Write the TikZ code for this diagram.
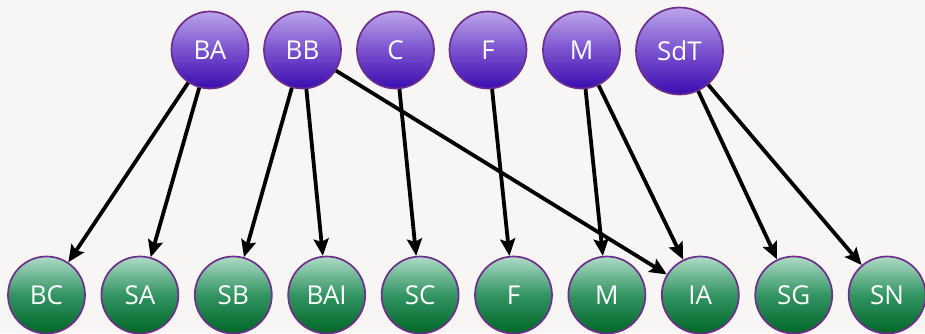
\documentclass[tikz,border=0pt]{standalone}
\usepackage{fontspec}
\setmainfont{Open Sans}
\usetikzlibrary{arrows.meta}

\definecolor{paper}{HTML}{F7F6F4}
\definecolor{rim}{HTML}{6E2E8C}
\definecolor{violettop}{HTML}{BCA4EA}
\definecolor{violetmid}{HTML}{7A52CF}
\definecolor{violetbot}{HTML}{3A0CB0}
\definecolor{greentop}{HTML}{AEDCC6}
\definecolor{greenmid}{HTML}{339463}
\definecolor{greenbot}{HTML}{006626}

\begin{document}
\begin{tikzpicture}[x=1pt, y=-1pt,
    ball/.style={circle, draw=rim, line width=1.7pt, text=white, inner sep=0pt,
      minimum size=77pt, font=\fontsize{26}{30}\selectfont},
    upper/.style={ball, top color=violettop, bottom color=violetbot, middle color=violetmid},
    lower/.style={ball, top color=greentop, bottom color=greenbot, middle color=greenmid},
    link/.style={-{Stealth[length=17pt, width=15pt, inset=3pt]}, line width=3.8pt}]
  \useasboundingbox (0,0) rectangle (925,333);
  \fill[paper] (0,0) rectangle (925,333);  %background

  % upper row
  \node[upper] (BA)  at (210,50)   {BA};
  \node[upper] (BB)  at (302.5,50) {BB};
  \node[upper] (C)   at (395.5,50) {C};
  \node[upper] (F)   at (488,50)   {F};
  \node[upper] (M)   at (581.5,50) {M};
  \node[upper, minimum size=87pt] (SdT) at (679.5,51) {SdT};

  % lower row
  \foreach \name/\txt [count=\i from 0] in {BC/BC, SA/SA, SB/SB, BAI/BAI, SC/SC, F/F, M/M, IA/IA, SG/SG, SN/SN}
    \node[lower] (low-\name) at (46.5+93.4*\i, 295) {\txt};

  % links
  \draw[link] (BA) -- (low-BC);
  \draw[link] (BA) -- (low-SA);
  \draw[link] (BB) -- (low-SB);
  \draw[link] (BB) -- (low-BAI);
  \draw[link] (BB) -- (low-IA);
  \draw[link] (C) -- (low-SC);
  \draw[link] (F) -- (low-F);
  \draw[link] (M) -- (low-M);
  \draw[link] (M) -- (low-IA);
  \draw[link] (SdT) -- (low-SG);
  \draw[link] (SdT) -- (low-SN);
\end{tikzpicture}
\end{document}
